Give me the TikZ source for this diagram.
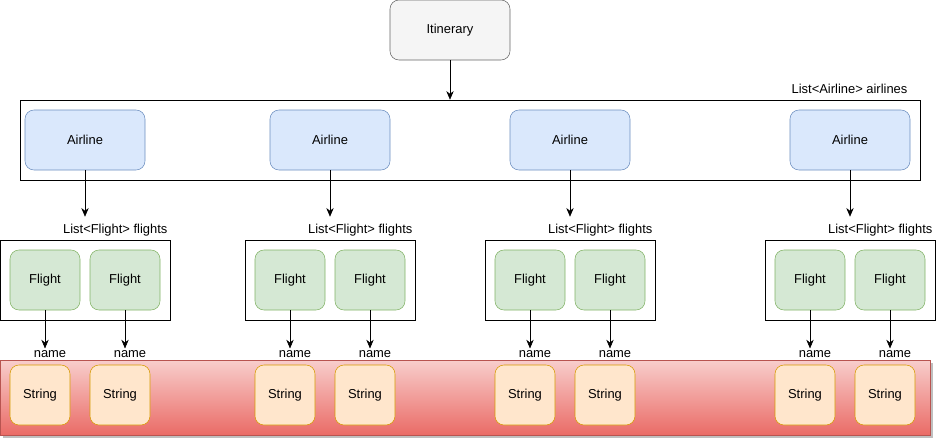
\documentclass[tikz,border=0pt]{standalone}
\usepackage{fontspec}
\setmainfont{Liberation Sans}
\usetikzlibrary{arrows.meta}
\definecolor{itinfill}{HTML}{F5F5F5}
\definecolor{itindraw}{HTML}{666666}
\definecolor{airfill}{HTML}{DAE8FC}
\definecolor{airdraw}{HTML}{6C8EBF}
\definecolor{flfill}{HTML}{D5E8D4}
\definecolor{fldraw}{HTML}{82B366}
\definecolor{strfill}{HTML}{FFE6CC}
\definecolor{strdraw}{HTML}{D79B00}
\definecolor{bandtop}{HTML}{F8CECC}
\definecolor{bandbot}{HTML}{EA6B66}
\definecolor{banddraw}{HTML}{B85450}

\begin{document}
\begin{tikzpicture}[x=0.75pt, y=-0.75pt, font=\fontsize{9.7}{11}\selectfont,
	box/.style={draw, rounded corners=6.75pt, align=center, inner sep=0pt, minimum height=45pt},
	itin/.style={box, fill=itinfill, draw=itindraw, minimum width=90pt},
	airline/.style={box, fill=airfill, draw=airdraw, minimum width=90pt},
	flight/.style={box, fill=flfill, draw=fldraw, minimum width=52.5pt},
	string/.style={box, fill=strfill, draw=strdraw, minimum width=45pt},
	holder/.style={draw=black, inner sep=0pt, minimum height=60pt},
	link/.style={black, -{Stealth[length=6.5pt, width=5.5pt]}},
	lbl/.style={inner sep=1pt}]
\useasboundingbox (0,0) rectangle (936,439);

% band with the strings
\fill[black!25] (3,363) rectangle (933,438);
\shade[top color=bandtop, bottom color=bandbot] (0,360) rectangle (930,435);
\draw[banddraw] (0,360) rectangle (930,435);

\node[itin] (itin) at (450,30) {Itinerary};
\node[holder, minimum width=675pt] (airlines) at (470,140) {};
\node[lbl, anchor=base east] (airtxt) at (909,93) {List<Airline> airlines};
\draw[link] (itin.south) -- (itin.south |- airlines.north);

\foreach \g/\x in {1/0, 2/245, 3/485, 4/765}{
	\node[airline] (air\g) at (\x+85,140) {Airline};
	\node[holder, minimum width=127.5pt] (fl\g) at (\x+85,280) {};
	\node[lbl, anchor=base east] (fltxt\g) at (\x+169,233) {List<Flight> flights};
	\draw[link] (air\g.south) -- ([yshift=4pt]fltxt\g.north -| air\g.south);
	\foreach \k/\dx in {1/45, 2/125}{
		\node[flight] (f\g\k) at (\x+\dx,280) {Flight};
		\node[string] (s\g\k) at (\x+\dx-5,395) {String};
		\node[lbl, anchor=base] (n\g\k) at (\x+\dx+5,357) {name};
		\draw[link] (f\g\k.south) -- (f\g\k.south |- n\g\k.north);
	}
}
\end{tikzpicture}
\end{document}
